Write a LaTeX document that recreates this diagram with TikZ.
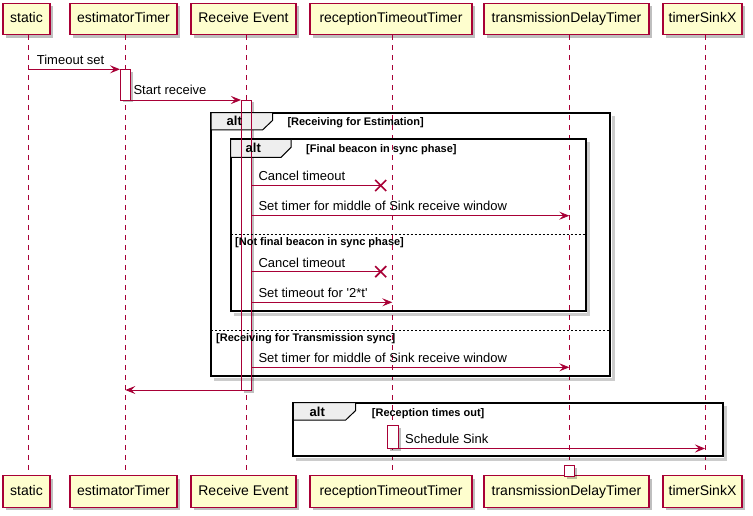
\documentclass[tikz,border=0pt]{standalone}
\usepackage{fontspec}
\setmainfont{Liberation Sans}[Ligatures=TeXOff]
\usetikzlibrary{arrows.meta,shadows}
\definecolor{pu}{HTML}{A80036}
\definecolor{pubg}{HTML}{FEFECE}
\definecolor{tabg}{HTML}{EEEEEE}
\tikzset{
 part/.style={draw=pu, fill=pubg, line width=1.1pt, inner sep=0pt, minimum height=31.5pt,
   text height=10pt, text depth=3pt, font=\fontsize{14}{16}\selectfont,
   drop shadow={shadow xshift=3pt, shadow yshift=-3pt, opacity=.25, fill=black}},
 life/.style={draw=pu, line width=0.9pt, dash pattern=on 5pt off 5pt},
 msg/.style={draw=pu, line width=0.9pt, -{Stealth[length=10pt,width=8pt,inset=4pt]}},
 lbl/.style={anchor=base west, inner sep=0pt, font=\fontsize{13}{15}\selectfont},
 guard/.style={anchor=base west, inner sep=0pt, font=\bfseries\fontsize{11}{13}\selectfont},
 alttxt/.style={anchor=base west, inner sep=0pt, font=\bfseries\fontsize{13}{15}\selectfont},
 frm/.style={draw=black, line width=1.7pt},
 frmshadow/.style={draw=black, opacity=.2, line width=3pt},
 tabst/.style={draw=black, fill=tabg, line width=1pt},
 actfill/.style={fill=white,
   drop shadow={shadow xshift=2.5pt, shadow yshift=-2.5pt, opacity=.25, fill=black}},
 actline/.style={draw=pu, line width=0.9pt},
 xmk/.style={draw=pu, line width=1.7pt},
 sep/.style={draw=black, line width=0.8pt, dash pattern=on 2pt off 2pt},
}
\begin{document}
\begin{tikzpicture}[x=1pt,y=-1pt]
\useasboundingbox (0,0) rectangle (753,516);
\fill[white] (0,0) rectangle (753,516);

% participants (top)
\node[part, minimum width=47pt]  (sT) at (26.5,19) {static};
\node[part, minimum width=107pt] (eT) at (123.5,19) {estimatorTimer};
\node[part, minimum width=105pt] (rT) at (243.5,19) {Receive Event};
\node[part, minimum width=162pt] (tT) at (391,19) {receptionTimeoutTimer};
\node[part, minimum width=165pt] (dT) at (566.5,19) {transmissionDelayTimer};
\node[part, minimum width=79pt]  (kT) at (702.5,19) {timerSinkX};
% participants (bottom)
\node[part, minimum width=47pt]  (sB) at (26.5,491.5) {static};
\node[part, minimum width=107pt] (eB) at (123.5,491.5) {estimatorTimer};
\node[part, minimum width=105pt] (rB) at (243.5,491.5) {Receive Event};
\node[part, minimum width=162pt] (tB) at (391,491.5) {receptionTimeoutTimer};
\node[part, minimum width=165pt] (dB) at (566.5,491.5) {transmissionDelayTimer};
\node[part, minimum width=79pt]  (kB) at (702.5,491.5) {timerSinkX};

% lifelines
\draw[life] ([xshift=2pt]sT.south) -- ([xshift=2pt]sB.north);
\draw[life] ([xshift=1.8pt]eT.south) -- ([xshift=1.8pt]eB.north);
\draw[life] ([xshift=3pt]rT.south) -- ([xshift=3pt]rB.north);
\draw[life] ([xshift=1.3pt]tT.south) -- ([xshift=1.3pt]tB.north);
\draw[life] ([xshift=2.8pt]dT.south) -- ([xshift=2.8pt]dB.north);
\draw[life] ([xshift=2.5pt]kT.south) -- ([xshift=2.5pt]kB.north);

% activation fills (behind frames)
\fill[actfill] (120,69.3) rectangle (130,100);
\fill[actfill] (241,100) rectangle (251.5,390);
\fill[actfill] (387.3,425) rectangle (398.3,448.5);
\fill[actfill] (564.3,465.7) rectangle (574.7,476);

% frames
% F1 outer alt
\draw[frmshadow] (613,116) -- (613,379) -- (214,379);
\draw[frm] (211,112.7) rectangle (610,376);
\draw[tabst] (211,112.7) -- (272.5,112.7) -- (272.5,120.5) -- (262.5,130) -- (211,130) -- cycle;
% F2 inner alt
\draw[frmshadow] (588.7,142.3) -- (588.7,314) -- (233.7,314);
\draw[frm] (230.7,139.3) rectangle (585.7,311);
\draw[tabst] (230.7,139.3) -- (291,139.3) -- (291,147.3) -- (281,157.3) -- (230.7,157.3) -- cycle;
% F3 alt
\draw[frmshadow] (725.7,405.7) -- (725.7,459) -- (296.3,459);
\draw[frm] (293.3,402.7) rectangle (722.7,456);
\draw[tabst] (293.3,402.7) -- (355.7,402.7) -- (355.7,410.5) -- (345.7,420) -- (293.3,420) -- cycle;

% activation outlines
\draw[actline] (120,69.3) rectangle (130,100);
\draw[actline] (241,100) rectangle (251.5,390);
\draw[actline] (387.3,425) rectangle (398.3,448.5);
\draw[actline] (564.3,465.7) rectangle (574.7,476);

% frame texts and separators
\node[alttxt] (f1a) at (226.5,126) {alt};
\node[guard] (f1g) at (287.3,125.5) {[Receiving for Estimation]};
\draw[sep] (211,330) -- (610,330);
\node[guard] (f1h) at (216,341.7) {[Receiving for Transmission sync]};
\node[alttxt] (f2a) at (245.5,153) {alt};
\node[guard] (f2g) at (306,152.7) {[Final beacon in sync phase]};
\draw[sep] (230.7,234.3) -- (585.7,234.3);
\node[guard] (f2h) at (235,245.3) {[Not final beacon in sync phase]};
\node[alttxt] (f3a) at (309.5,416.5) {alt};
\node[guard] (f3g) at (371.7,416) {[Reception times out]};

% message endpoints
\coordinate (m1a) at (28.5,69.3);  \coordinate (m1b) at (120,69.3);
\coordinate (m2a) at (130,100);    \coordinate (m2b) at (241,100);
\coordinate (m3a) at (251.5,185.5);\coordinate (m3b) at (380.7,185.5);
\coordinate (m4a) at (251.5,215.7);\coordinate (m4b) at (569.3,215.7);
\coordinate (m5a) at (251.5,271.7);\coordinate (m5b) at (380.7,271.7);
\coordinate (m6a) at (251.5,302.3);\coordinate (m6b) at (392.3,302.3);
\coordinate (m7a) at (251.5,367.3);\coordinate (m7b) at (569.3,367.3);
\coordinate (m8a) at (241,390);    \coordinate (m8b) at (125.3,390);
\coordinate (m9a) at (398.3,448.5);\coordinate (m9b) at (705,448.5);

% messages
\draw[msg] (m1a) -- (m1b);
\node[lbl] (t1) at (36.7,64.5) {Timeout set};
\draw[msg] (m2a) -- (m2b);
\node[lbl] (t2) at (133.3,95) {Start receive};
\draw[draw=pu, line width=0.9pt] (m3a) -- (m3b);
\draw[xmk] ([shift={(-5.5,-5.5)}]m3b) -- ([shift={(5.5,5.5)}]m3b);
\draw[xmk] ([shift={(-5.5,5.5)}]m3b) -- ([shift={(5.5,-5.5)}]m3b);
\node[lbl] (t3) at (258.3,180.8) {Cancel timeout};
\draw[msg] (m4a) -- (m4b);
\node[lbl] (t4) at (258.3,211) {Set timer for middle of Sink receive window};
\draw[draw=pu, line width=0.9pt] (m5a) -- (m5b);
\draw[xmk] ([shift={(-5.5,-5.5)}]m5b) -- ([shift={(5.5,5.5)}]m5b);
\draw[xmk] ([shift={(-5.5,5.5)}]m5b) -- ([shift={(5.5,-5.5)}]m5b);
\node[lbl] (t5) at (258.3,267) {Cancel timeout};
\draw[msg] (m6a) -- (m6b);
\node[lbl] (t6) at (258.3,297.6) {Set timeout for '2*t'};
\draw[msg] (m7a) -- (m7b);
\node[lbl] (t7) at (258.3,362.6) {Set timer for middle of Sink receive window};
\draw[msg] (m8a) -- (m8b);
\draw[msg] (m9a) -- (m9b);
\node[lbl] (t9) at (405,443) {Schedule Sink};
\end{tikzpicture}
\end{document}
